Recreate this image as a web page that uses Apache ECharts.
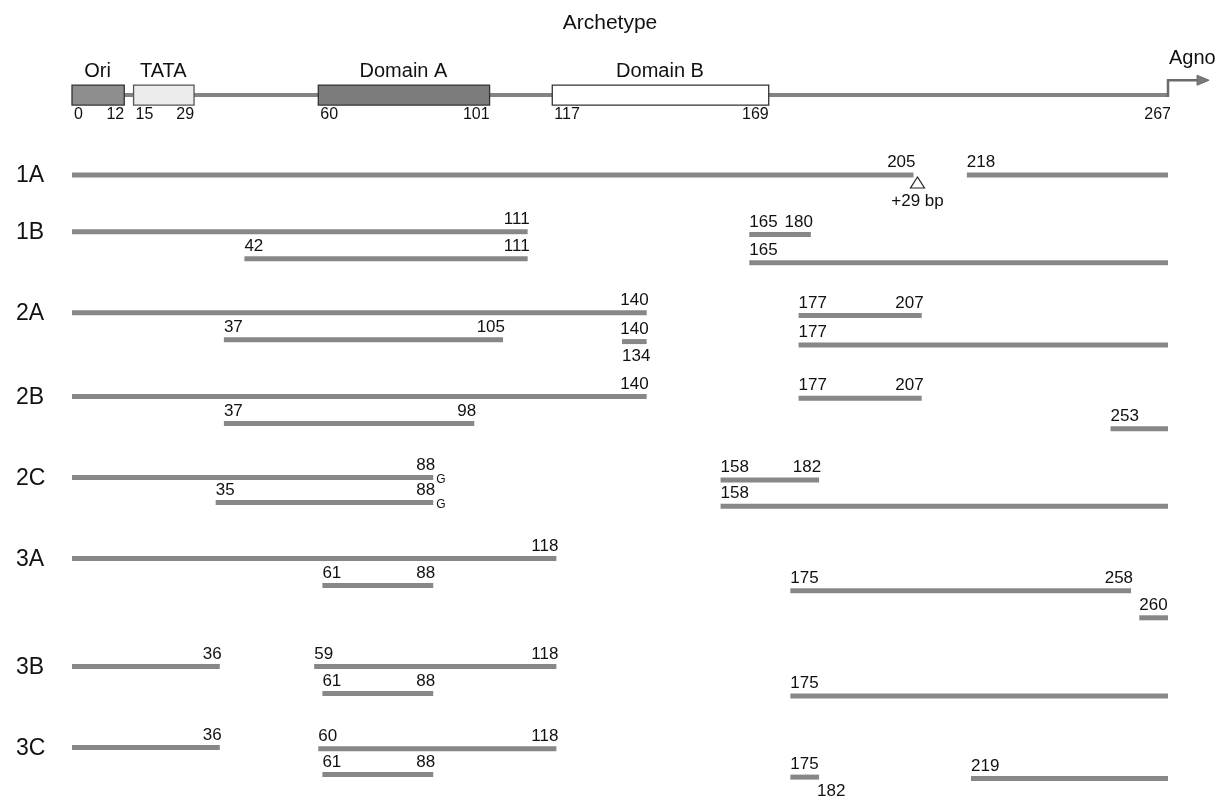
<!DOCTYPE html>
<html><head><meta charset="utf-8">
<script src="https://cdn.jsdelivr.net/npm/echarts@6/dist/echarts.min.js"></script>
<style>html,body{margin:0;padding:0;background:#fff}#c{width:1220px;height:797px}</style>
</head><body><div id="c"></div>
<script>
// ---------------- data ----------------
const genomeLength = 267;
const rowNames = ['1A', '1B', '2A', '2B', '2C', '3A', '3B', '3C'];
const rowTrack = [0, 2.1, 5.1, 8.2, 11.2, 14.2, 18.2, 21.2];
// each segment: [start, end, sub-track within the row]
const seg1A = [[0, 205, 0], [218, 267, 0]];
const seg1B = [[0, 111, 0], [42, 111, 1], [165, 180, 0.1], [165, 267, 1.15]];
const seg2A = [[0, 140, 0], [37, 105, 1], [134, 140, 1.07], [177, 207, 0.1], [177, 267, 1.2]];
const seg2B = [[0, 140, 0], [37, 98, 1], [177, 207, 0.07], [253, 267, 1.2]];
const seg2C = [[0, 88, 0], [35, 88, 0.93], [158, 182, 0.1], [158, 267, 1.07]];
const seg3A = [[0, 118, 0], [61, 88, 1], [175, 258, 1.2], [260, 267, 2.2]];
const seg3B = [[0, 36, 0], [59, 118, 0], [61, 88, 1], [175, 267, 1.1]];
const seg3C = [[0, 36, 0], [60, 118, 0.05], [61, 88, 1], [175, 182, 1.1], [219, 267, 1.15]];
const archetypeTrack = -2.96;
const archetypeBoxes = [['Ori', 0, 12], ['TATA', 15, 29], ['Domain A', 60, 101], ['Domain B', 117, 169]];
const archetypeTicks = [0, 12, 15, 29, 60, 101, 117, 169, 267];
const labelsBelow = [['2A', 134], ['3C', 182]];
const pointMutations = [['2C', 88, 'G']];
const insertions = [['1A', 205, '+29 bp']];
const geneName = 'Agno';

// ---------------- build ----------------
const rowSegs = [seg1A, seg1B, seg2A, seg2B, seg2C, seg3A, seg3B, seg3C];
const segments = [];
rowSegs.forEach((list, ri) => list.forEach(s => segments.push({ row: rowNames[ri], s: s[0], e: s[1], y: rowTrack[ri] + s[2] })));

const FONT = '"Liberation Sans", Arial, Helvetica, sans-serif';
const INK = '#111';
const LINE = '#878787';

function txt(x, y, text, size, align, valign, extra) {
  return Object.assign({
    type: 'text', x: x, y: y,
    style: { text: text, fill: INK, font: size + 'px ' + FONT, align: align, textAlign: align, verticalAlign: valign, textVerticalAlign: valign }
  }, extra || {});
}
function isBelow(row, v) { return labelsBelow.some(b => b[0] === row && b[1] === v); }

const boxStyle = {
  'Ori': { fill: '#8e8e8e', stroke: '#333' },
  'TATA': { fill: '#ececec', stroke: '#555' },
  'Domain A': { fill: '#7c7c7c', stroke: '#333' },
  'Domain B': { fill: '#ffffff', stroke: '#333' }
};

const chart = echarts.init(document.getElementById('c'));
chart.setOption({
  animation: false,
  backgroundColor: '#fff',
  title: { text: 'Archetype', left: 'center', top: 8, textStyle: { fontSize: 21, fontWeight: 'normal', color: INK, fontFamily: FONT } },
  grid: { left: 72, right: 52, top: 13, bottom: 1 },
  xAxis: { type: 'value', min: 0, max: genomeLength, show: false },
  yAxis: { type: 'value', min: -6, max: 23, inverse: true, show: false },
  series: [
    // archetype map
    {
      type: 'custom', silent: true, clip: false,
      data: [[0, archetypeTrack]],
      renderItem: function (params, api) {
        const ch = [];
        const a = api.coord([0, archetypeTrack]);
        const b = api.coord([genomeLength, archetypeTrack]);
        ch.push({ type: 'line', shape: { x1: a[0], y1: a[1], x2: b[0], y2: b[1] }, style: { stroke: '#838383', lineWidth: 4 } });
        // Agno arrow
        const up = api.coord([genomeLength, archetypeTrack - 0.55]);
        const tip = api.coord([genomeLength + 10, archetypeTrack - 0.55]);
        ch.push({ type: 'polyline', shape: { points: [[b[0], b[1] + 2], [up[0], up[1]], [tip[0] - 10, tip[1]]] }, style: { stroke: '#6a6a6a', lineWidth: 2.5, fill: null } });
        ch.push({ type: 'polygon', shape: { points: [[tip[0] - 12, tip[1] - 5], [tip[0], tip[1]], [tip[0] - 12, tip[1] + 5]] }, style: { fill: '#7a7a7a', stroke: '#6a6a6a', lineWidth: 1 } });
        const ag = api.coord([genomeLength, archetypeTrack - 1.37]);
        ch.push(txt(ag[0] + 1, ag[1], geneName, 20, 'left', 'middle'));
        archetypeBoxes.forEach(bx => {
          const p1 = api.coord([bx[1], archetypeTrack]);
          const p2 = api.coord([bx[2], archetypeTrack]);
          const st = boxStyle[bx[0]];
          ch.push({ type: 'rect', shape: { x: p1[0], y: p1[1] - 10, width: p2[0] - p1[0] + 3, height: 20 }, style: { fill: st.fill, stroke: st.stroke, lineWidth: 1.3 } });
          ch.push(txt((p1[0] + p2[0]) / 2 + 1, p1[1] - 14, bx[0], 20, 'center', 'bottom'));
        });
        archetypeTicks.forEach(t => {
          const p = api.coord([t, archetypeTrack]);
          const isStart = archetypeBoxes.some(bx => bx[1] === t);
          ch.push(txt(p[0] + (isStart ? 2 : 3), p[1] + 12, String(t), 16, isStart ? 'left' : 'right', 'top'));
        });
        return { type: 'group', children: ch };
      }
    },
    // row labels
    {
      type: 'custom', silent: true, clip: false,
      data: rowTrack.map((t, i) => [0, t, i]),
      renderItem: function (params, api) {
        const p = api.coord([0, api.value(1)]);
        return txt(p[0] - 56, p[1] + 1, rowNames[params.dataIndex], 23, 'left', 'middle');
      }
    },
    // segments
    {
      type: 'custom', silent: true, clip: false,
      data: segments.map(s => [s.s, s.e, s.y]),
      renderItem: function (params, api) {
        const seg = segments[params.dataIndex];
        const p1 = api.coord([seg.s, seg.y]);
        const p2 = api.coord([seg.e, seg.y]);
        const ch = [{ type: 'line', shape: { x1: p1[0], y1: p1[1], x2: p2[0], y2: p2[1] }, style: { stroke: LINE, lineWidth: 5 } }];
        if (seg.s > 0) {
          if (isBelow(seg.row, seg.s)) ch.push(txt(p1[0], p1[1] + 6, String(seg.s), 17, 'left', 'top'));
          else ch.push(txt(p1[0], p1[1] - 4, String(seg.s), 17, 'left', 'bottom'));
        }
        if (seg.e < genomeLength) {
          if (isBelow(seg.row, seg.e)) ch.push(txt(p2[0] - 2, p2[1] + 6, String(seg.e), 17, 'left', 'top'));
          else ch.push(txt(p2[0] + 2, p2[1] - 4, String(seg.e), 17, 'right', 'bottom'));
          pointMutations.forEach(m => {
            if (m[0] === seg.row && m[1] === seg.e) ch.push(txt(p2[0] + 3, p2[1] + 2, m[2], 12, 'left', 'middle'));
          });
          insertions.forEach(m => {
            if (m[0] === seg.row && m[1] === seg.e) {
              const x = p2[0] + 4, y = p2[1] + 2;
              ch.push({ type: 'polygon', shape: { points: [[x, y], [x - 7, y + 11], [x + 7, y + 11]] }, style: { fill: '#fff', stroke: '#222', lineWidth: 1.2 } });
              ch.push(txt(x, y + 16, m[2], 17, 'center', 'top'));
            }
          });
        }
        return { type: 'group', children: ch };
      }
    }
  ]
});
</script>
</body></html>
